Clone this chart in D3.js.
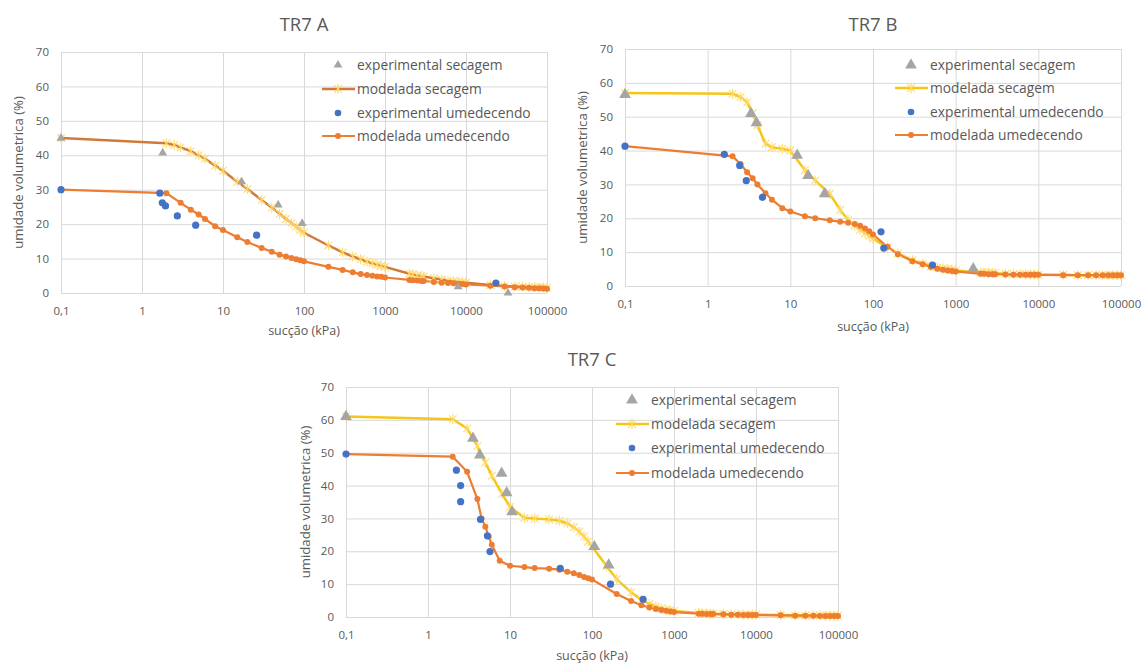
<!DOCTYPE html>
<html><head><meta charset="utf-8">
<script src="https://cdn.jsdelivr.net/npm/d3@7"></script>
<style>
html,body{margin:0;padding:0;background:#fff;}
svg text{font-family:"Open Sans",sans-serif;fill:#595959;}
</style></head>
<body>
<svg id="c" width="1144" height="666"></svg>
<script>
// ---------- tick labels ----------
const xTickValues = [0.1, 1, 10, 100, 1000, 10000, 100000];
const xTickLabels = ["0,1", "1", "10", "100", "1000", "10000", "100000"];
const yTickValues = [0, 10, 20, 30, 40, 50, 60, 70];
const titles = ["TR7 A", "TR7 B", "TR7 C"];
const legendLabels = ["experimental secagem", "modelada secagem", "experimental umedecendo", "modelada umedecendo"];
const xAxisTitle = "sucção (kPa)";
const yAxisTitle = "umidade volumetrica (%)";

// ---------- TR7 A ----------
const aExpSecX = [0.1, 1.8, 17, 48, 95, 8000, 33000];
const aExpSecY = [45, 40.7, 32.3, 25.6, 20.2, 1.8, 0];
const aExpUmX = [0.1, 1.66, 1.78, 1.95, 2.73, 4.6, 26, 23400];
const aExpUmY = [30, 29, 26.2, 25.3, 22.4, 19.7, 16.8, 2.9];
const aModSecX = [0.1, 2, 2.5, 3, 4, 5, 6, 8, 10, 15, 20, 30, 40, 50, 60, 70, 80, 90, 100, 200, 300, 400, 500, 600, 700, 800, 900, 1000, 2000, 2200, 2500, 2800, 3000, 4000, 5000, 6000, 7000, 8000, 9000, 10000, 20000, 30000, 40000, 50000, 60000, 70000, 80000, 90000, 100000];
const aModSecY = [45, 43.5, 43, 42.3, 41.2, 40, 39, 37, 35.5, 32.3, 30.2, 27, 24.8, 23, 21.5, 20.3, 19.3, 18.3, 17.5, 13.8, 11.8, 10.6, 9.8, 9.1, 8.6, 8.2, 7.9, 7.6, 5.6, 5.4, 5.1, 4.9, 4.8, 4.3, 3.9, 3.6, 3.4, 3.2, 3.1, 3.0, 2.3, 2.0, 1.9, 1.8, 1.7, 1.7, 1.6, 1.6, 1.5];
const aModUmX = [0.1, 2, 3, 4, 5, 6, 8, 10, 15, 20, 30, 40, 50, 60, 70, 80, 90, 100, 200, 300, 400, 500, 600, 700, 800, 900, 1000, 2000, 2200, 2500, 2800, 3000, 4000, 5000, 6000, 7000, 8000, 9000, 10000, 20000, 30000, 40000, 50000, 60000, 70000, 80000, 90000, 100000];
const aModUmY = [30, 29, 26.2, 24.2, 22.8, 21.5, 19.4, 18.3, 16.2, 14.8, 13.1, 12, 11.1, 10.6, 10.2, 9.8, 9.5, 9.2, 7.6, 6.7, 6.0, 5.5, 5.2, 5.0, 4.8, 4.7, 4.5, 3.8, 3.7, 3.6, 3.5, 3.5, 3.2, 3.0, 2.9, 2.8, 2.7, 2.6, 2.5, 2.1, 1.9, 1.7, 1.6, 1.5, 1.4, 1.4, 1.3, 1.2];

// ---------- TR7 B ----------
const bExpSecX = [0.1, 3.34, 3.9, 12.1, 16.4, 26, 1630];
const bExpSecY = [56.5, 50.9, 48.2, 38.6, 32.6, 27.2, 5.1];
const bExpUmX = [0.1, 1.59, 2.44, 2.93, 4.6, 125, 135, 525];
const bExpUmY = [41.3, 38.9, 35.6, 31.1, 26.2, 16.0, 11.2, 6.2];
const bModSecX = [0.1, 2, 2.5, 3, 3.5, 4, 5, 6, 8, 10, 15, 20, 30, 40, 50, 60, 70, 80, 90, 100, 150, 200, 300, 400, 500, 600, 700, 800, 900, 1000, 2000, 2200, 2500, 2800, 3000, 4000, 5000, 6000, 7000, 8000, 9000, 10000, 20000, 30000, 40000, 50000, 60000, 70000, 80000, 90000, 100000];
const bModSecY = [57, 56.8, 55.8, 54.3, 51, 47.5, 42, 41, 40.5, 40, 34.2, 31.2, 27.2, 22.5, 19.5, 17.8, 16.6, 15.6, 14.8, 14, 11.4, 9.6, 7.6, 6.6, 5.9, 5.5, 5.2, 5.0, 4.8, 4.6, 4.0, 3.9, 3.9, 3.8, 3.8, 3.6, 3.5, 3.5, 3.4, 3.4, 3.4, 3.3, 3.3, 3.2, 3.2, 3.2, 3.2, 3.2, 3.2, 3.2, 3.2];
const bModUmX = [0.1, 2, 2.5, 3, 3.5, 4, 5, 6, 8, 10, 15, 20, 30, 40, 50, 60, 70, 80, 90, 100, 150, 200, 300, 400, 500, 600, 700, 800, 900, 1000, 2000, 2200, 2500, 2800, 3000, 4000, 5000, 6000, 7000, 8000, 9000, 10000, 20000, 30000, 40000, 50000, 60000, 70000, 80000, 90000, 100000];
const bModUmY = [41.3, 38.3, 36, 33.6, 31.8, 30, 27.4, 25.5, 23, 22, 20.6, 20, 19.4, 19, 18.7, 18.3, 17.8, 17, 16.2, 15.2, 11.6, 9.4, 7.3, 6.4, 5.6, 5.1, 4.8, 4.6, 4.4, 4.3, 3.6, 3.6, 3.5, 3.5, 3.5, 3.4, 3.3, 3.3, 3.3, 3.3, 3.3, 3.3, 3.2, 3.2, 3.2, 3.2, 3.2, 3.2, 3.2, 3.2, 3.2];

// ---------- TR7 C ----------
const cExpSecX = [0.1, 3.53, 4.29, 7.9, 9.1, 10.6, 107, 160];
const cExpSecY = [61, 54.4, 49.3, 43.7, 37.8, 32, 21.4, 15.8];
const cExpUmX = [0.1, 2.22, 2.5, 2.5, 4.37, 5.3, 5.7, 41, 168, 420];
const cExpUmY = [49.6, 44.7, 40, 35.1, 29.7, 24.7, 19.9, 14.8, 10, 5.4];
const cModSecX = [0.1, 2, 3, 4, 5, 6, 8, 10, 15, 20, 30, 40, 50, 60, 70, 80, 90, 100, 150, 200, 300, 400, 500, 600, 700, 800, 900, 1000, 2000, 2200, 2500, 2800, 3000, 4000, 5000, 6000, 7000, 8000, 9000, 10000, 20000, 30000, 40000, 50000, 60000, 70000, 80000, 90000, 100000];
const cModSecY = [61, 60.2, 57.4, 52, 47, 43, 37.5, 33.5, 30.2, 30, 29.7, 29.3, 28.5, 27.3, 26, 24.5, 23, 21.5, 15.5, 11.5, 7.5, 5.3, 4.0, 3.2, 2.6, 2.2, 2.0, 1.8, 1.2, 1.1, 1.1, 1.0, 1.0, 0.9, 0.8, 0.8, 0.7, 0.7, 0.7, 0.7, 0.6, 0.5, 0.5, 0.5, 0.5, 0.4, 0.4, 0.4, 0.4];
const cModUmX = [0.1, 2, 3, 4, 4.5, 5, 5.5, 6, 7.5, 10, 15, 20, 30, 40, 50, 60, 70, 80, 90, 100, 200, 300, 400, 500, 600, 700, 800, 900, 1000, 2000, 2200, 2500, 2800, 3000, 4000, 5000, 6000, 7000, 8000, 9000, 10000, 20000, 30000, 40000, 50000, 60000, 70000, 80000, 90000, 100000];
const cModUmY = [49.6, 48.8, 44.2, 35.9, 30, 27.5, 24.5, 22, 17.1, 15.6, 15.2, 14.9, 14.7, 14.4, 13.8, 13.3, 12.8, 12.2, 11.8, 11.4, 7.0, 4.9, 3.6, 2.9, 2.4, 2.1, 1.9, 1.7, 1.5, 1.0, 1.0, 0.9, 0.9, 0.9, 0.8, 0.7, 0.7, 0.6, 0.6, 0.6, 0.6, 0.5, 0.4, 0.4, 0.4, 0.3, 0.3, 0.3, 0.3, 0.3];

const zip = (xs, ys) => xs.map((x, i) => [x, ys[i]]);

const COL = {
  grey: "#a5a5a5", blue: "#4472c4", orange: "#ed7d31",
  yellow: "#f5c518", star: "#ffd966", secA: "#d0793a", grid: "#d9d9d9", text: "#595959"
};

const panels = [
  { title: titles[0], left: 61, right: 547, top: 52, bottom: 293, titleY: 31, yTitleX: 18, xTitleY: 335, legX: 322, legY: [65, 89, 113, 136],
    secLine: COL.secA, triSize: 34,
    expSec: zip(aExpSecX, aExpSecY), expUm: zip(aExpUmX, aExpUmY), modSec: zip(aModSecX, aModSecY), modUm: zip(aModUmX, aModUmY) },
  { title: titles[1], left: 625, right: 1121, top: 49, bottom: 286, titleY: 31, yTitleX: 582, xTitleY: 331, legX: 895, legY: [65, 88, 112, 135],
    secLine: COL.yellow, triSize: 60,
    expSec: zip(bExpSecX, bExpSecY), expUm: zip(bExpUmX, bExpUmY), modSec: zip(bModSecX, bModSecY), modUm: zip(bModUmX, bModUmY) },
  { title: titles[2], left: 346, right: 838, top: 387, bottom: 617, titleY: 366, yTitleX: 305, xTitleY: 660, legX: 616, legY: [400, 424, 448, 473],
    secLine: COL.yellow, triSize: 60,
    expSec: zip(cExpSecX, cExpSecY), expUm: zip(cExpUmX, cExpUmY), modSec: zip(cModSecX, cModSecY), modUm: zip(cModUmX, cModUmY) }
];

const svg = d3.select("#c");

function starPath(s) {
  return `M${-s},${-s}L${s},${s}M${-s},${s}L${s},${-s}M0,${-s*1.3}L0,${s*1.3}`;
}

panels.forEach(p => {
  const g = svg.append("g");
  const x = d3.scaleLog().domain([0.1, 100000]).range([p.left, p.right]);
  const y = d3.scaleLinear().domain([0, 70]).range([p.bottom, p.top]);

  // gridlines
  g.append("g").attr("transform", `translate(0,${p.bottom})`)
    .call(d3.axisBottom(x).tickValues(xTickValues).tickSize(-(p.bottom - p.top)).tickFormat(""))
    .call(a => a.select(".domain").remove())
    .call(a => a.selectAll("line").attr("stroke", COL.grid));
  g.append("g").attr("transform", `translate(${p.left},0)`)
    .call(d3.axisLeft(y).tickValues(yTickValues).tickSize(-(p.right - p.left)).tickFormat(""))
    .call(a => a.select(".domain").remove())
    .call(a => a.selectAll("line").attr("stroke", COL.grid));

  // tick labels
  g.append("g").attr("transform", `translate(0,${p.bottom})`)
    .call(d3.axisBottom(x).tickValues(xTickValues).tickSize(0).tickPadding(14).tickFormat((d, i) => xTickLabels[i]))
    .call(a => a.select(".domain").remove())
    .call(a => a.selectAll("text").attr("font-size", 11.5).attr("font-family", "Open Sans").attr("fill", COL.text));
  g.append("g").attr("transform", `translate(${p.left},0)`)
    .call(d3.axisLeft(y).tickValues(yTickValues).tickSize(0).tickPadding(12))
    .call(a => a.select(".domain").remove())
    .call(a => a.selectAll("text").attr("font-size", 11.5).attr("font-family", "Open Sans").attr("fill", COL.text));

  // titles
  g.append("text").attr("x", (p.left + p.right) / 2).attr("y", p.titleY).attr("text-anchor", "middle")
    .attr("font-size", 18.5).text(p.title);
  g.append("text").attr("x", (p.left + p.right) / 2).attr("y", p.xTitleY).attr("text-anchor", "middle")
    .attr("font-size", 12.5).text(xAxisTitle);
  g.append("text").attr("transform", `translate(${p.yTitleX},${(p.top + p.bottom) / 2}) rotate(-90)`)
    .attr("text-anchor", "middle").attr("dy", "0.35em").attr("font-size", 13.2).text(yAxisTitle);

  const line = d3.line().x(d => x(d[0])).y(d => y(d[1]));

  // model lines
  g.append("path").datum(p.modSec).attr("d", line).attr("fill", "none")
    .attr("stroke", p.secLine).attr("stroke-width", 2.5);
  g.append("path").datum(p.modUm).attr("d", line).attr("fill", "none")
    .attr("stroke", COL.orange).attr("stroke-width", 2.2);

  // model markers
  g.selectAll(".ms").data(p.modSec).join("path")
    .attr("transform", d => `translate(${x(d[0])},${y(d[1])})`)
    .attr("d", starPath(3.8)).attr("stroke", COL.star).attr("stroke-width", 1.2).attr("fill", "none").attr("opacity", 0.9);
  g.selectAll(".mu").data(p.modUm).join("circle")
    .attr("cx", d => x(d[0])).attr("cy", d => y(d[1])).attr("r", 3).attr("fill", COL.orange);

  // experimental markers
  const tri = d3.symbol().type(d3.symbolTriangle).size(p.triSize);
  g.selectAll(".es").data(p.expSec).join("path")
    .attr("transform", d => `translate(${x(d[0])},${y(d[1])})`)
    .attr("d", tri).attr("fill", COL.grey);
  g.selectAll(".eu").data(p.expUm).join("circle")
    .attr("cx", d => x(d[0])).attr("cy", d => y(d[1])).attr("r", 3.6).attr("fill", COL.blue);

  // legend
  const lx = p.legX, mx = lx + 16, tx = lx + 35;
  const L = g.append("g");
  L.append("path").attr("transform", `translate(${mx},${p.legY[0]})`).attr("d", tri).attr("fill", COL.grey);
  L.append("line").attr("x1", lx).attr("x2", lx + 33).attr("y1", p.legY[1]).attr("y2", p.legY[1]).attr("stroke", p.secLine).attr("stroke-width", 2.5);
  L.append("path").attr("transform", `translate(${mx},${p.legY[1]})`).attr("d", starPath(3.8)).attr("stroke", COL.star).attr("stroke-width", 1.2).attr("fill", "none");
  L.append("circle").attr("cx", mx).attr("cy", p.legY[2]).attr("r", 3.3).attr("fill", COL.blue);
  L.append("line").attr("x1", lx).attr("x2", lx + 33).attr("y1", p.legY[3]).attr("y2", p.legY[3]).attr("stroke", COL.orange).attr("stroke-width", 2.2);
  L.append("circle").attr("cx", mx).attr("cy", p.legY[3]).attr("r", 3).attr("fill", COL.orange);
  legendLabels.forEach((t, i) => {
    L.append("text").attr("x", tx).attr("y", p.legY[i]).attr("dy", "0.35em").attr("font-size", 13.8).text(t);
  });
});
</script>
</body></html>
